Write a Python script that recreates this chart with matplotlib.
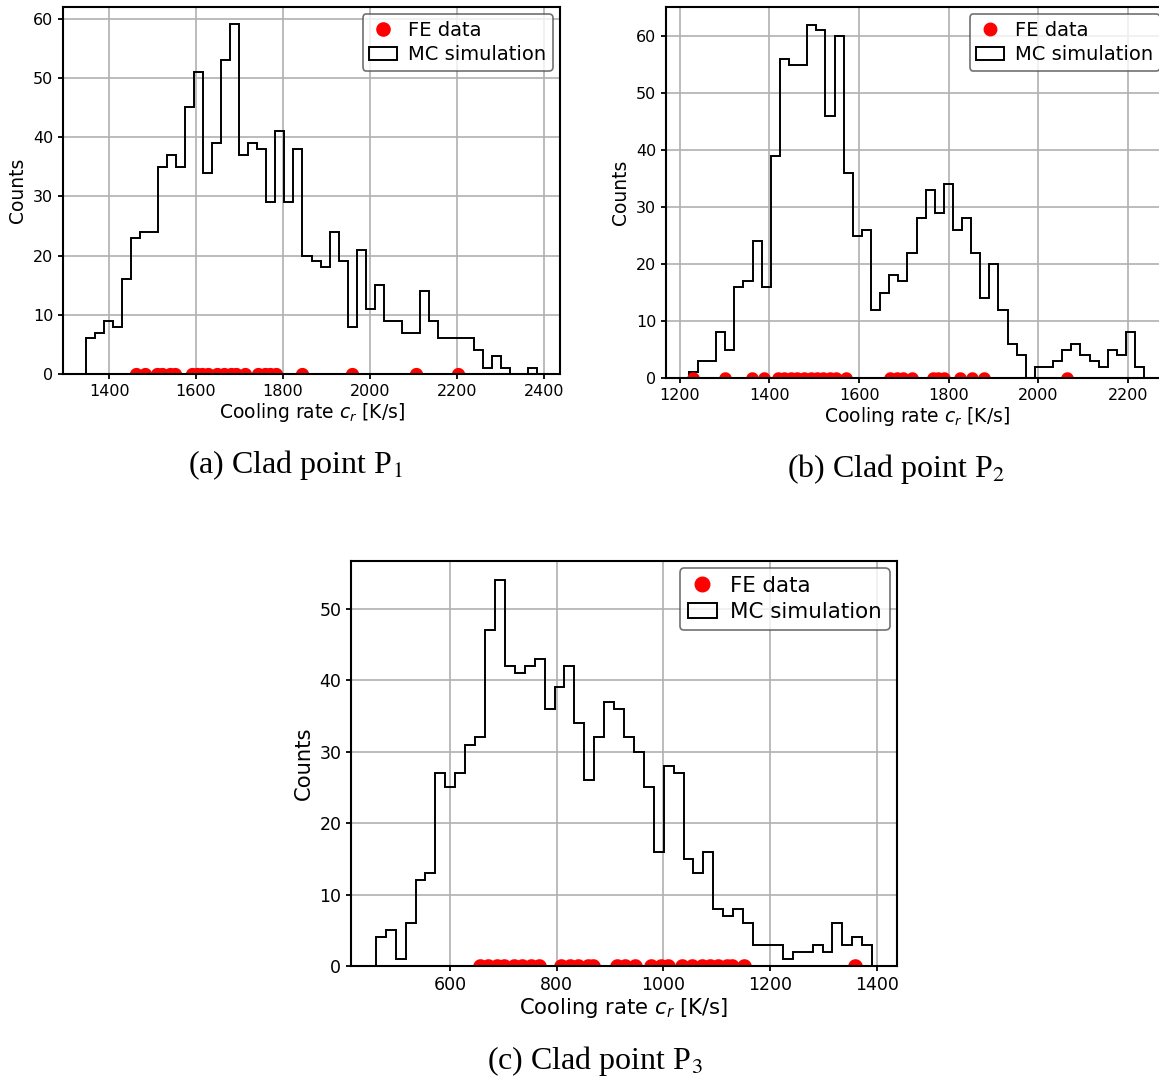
import numpy as np
import matplotlib
matplotlib.use('Agg')
import matplotlib.pyplot as plt
from matplotlib.path import Path
from matplotlib.lines import Line2D

# ---------------- data ----------------
counts_a = [6, 7, 9, 8, 16, 23, 24, 24, 35, 37, 35, 45, 51, 34, 39, 53, 59, 37, 39, 38,
            29, 41, 29, 38, 20, 19, 18, 24, 19, 8, 21, 11, 15, 9, 9, 7, 7, 14, 9, 6,
            6, 6, 6, 4, 1, 3, 1, 0, 0, 1]
range_a = (1346, 2385)
fe_a = [1462, 1483, 1510, 1522, 1540, 1552, 1590, 1602, 1614, 1628, 1648, 1665, 1680,
        1692, 1712, 1742, 1758, 1770, 1785, 1843, 1958, 2106, 2203]

counts_b = [1, 3, 3, 8, 5, 16, 17, 24, 16, 39, 56, 55, 55, 62, 61, 46, 60, 36, 25, 26,
            12, 15, 18, 17, 22, 28, 33, 29, 34, 26, 28, 22, 14, 20, 12, 6, 4, 0, 2, 2,
            3, 5, 6, 4, 3, 2, 5, 4, 8, 2]
range_b = (1220, 2236)
fe_b = [1230, 1300, 1360, 1388, 1418, 1432, 1448, 1462, 1478, 1492, 1506, 1520, 1535,
        1548, 1570, 1668, 1684, 1698, 1718, 1765, 1775, 1790, 1826, 1852, 1878, 2063]

counts_c = [4, 5, 1, 6, 12, 13, 27, 25, 27, 31, 32, 47, 54, 42, 41, 42, 43, 36, 39, 42,
            34, 26, 32, 37, 36, 32, 30, 25, 16, 28, 27, 15, 13, 16, 8, 7, 8, 6, 3, 3,
            3, 1, 2, 2, 3, 2, 6, 3, 4, 3]
range_c = (461, 1391)
fe_c = [656, 672, 688, 701, 720, 735, 751, 767, 808, 824, 840, 859, 868, 913, 928, 947,
        976, 995, 1008, 1034, 1053, 1072, 1087, 1103, 1119, 1128, 1150, 1359]

xticks_a = [1400, 1600, 1800, 2000, 2200, 2400]
xticks_b = [1200, 1400, 1600, 1800, 2000, 2200]
xticks_c = [600, 800, 1000, 1200, 1400]

captions = ['(a) Clad point P$_1$', '(b) Clad point P$_2$', '(c) Clad point P$_3$']
legend_labels = ['FE data', 'MC simulation']
xlabel = 'Cooling rate $c_r$ [K/s]'
ylabel = 'Counts'

# ---------------- figure ----------------
W, H = 1159, 1080
fig = plt.figure(figsize=(W / 100, H / 100), dpi=100)

# upper half-disc marker (points sit on the x axis, lower half hidden by it)
_th = np.linspace(0, np.pi, 40)
_verts = np.column_stack([np.cos(_th), np.sin(_th)])
_verts = np.vstack([_verts, [[1, 0]]])
half_disc = Path(_verts, closed=True)


def px_axes(l, t, r, b):
    return fig.add_axes([l / W, 1 - b / H, (r - l) / W, (b - t) / H])


def panel(ax, counts, rng, fe, xticks, tick_fs, label_fs, leg_fs, ms):
    counts = np.asarray(counts, float)
    edges = np.linspace(rng[0], rng[1], len(counts) + 1)
    centers = 0.5 * (edges[:-1] + edges[1:])
    _, _, patches = ax.hist(centers, bins=edges, weights=counts, histtype='step',
                            color='black', linewidth=1.4, zorder=2)
    ax.plot(fe, np.zeros(len(fe)), linestyle='none', marker=half_disc,
            markersize=ms, markerfacecolor='red', markeredgewidth=0, zorder=2.3)
    ax.set_ylim(bottom=0)
    ax.set_xticks(xticks)
    ax.grid(True, color='#b0b0b0', linewidth=1.2)
    ax.set_axisbelow(True)
    ax.tick_params(direction='out', length=3.5, width=1.3, labelsize=tick_fs)
    for s in ax.spines.values():
        s.set_linewidth(1.5)
    ax.set_xlabel(xlabel, fontsize=label_fs, labelpad=2)
    ax.set_ylabel(ylabel, fontsize=label_fs, labelpad=4)
    dot_handle = Line2D([], [], linestyle='none', marker='o', color='red',
                        markersize=ms)
    leg = ax.legend([dot_handle, patches[0]], legend_labels, loc='upper right',
                    fontsize=leg_fs, framealpha=0.8, handlelength=1.4,
                    handletextpad=0.6, borderpad=0.35, labelspacing=0.3,
                    borderaxespad=0.35)
    leg.get_frame().set_edgecolor('0.3')
    leg.get_frame().set_linewidth(1.2)


ax_a = px_axes(63, 7, 560, 374)
panel(ax_a, counts_a, range_a, fe_a, xticks_a, 11.5, 13.5, 14, 9.5)

ax_b = px_axes(666, 7, 1167, 378)
panel(ax_b, counts_b, range_b, fe_b, xticks_b, 11.5, 13.5, 14, 9)

ax_c = px_axes(351, 561, 897, 966)
panel(ax_c, counts_c, range_c, fe_c, xticks_c, 12.5, 15.2, 15.4, 10.5)

cap_kw = dict(ha='center', va='center', fontsize=23, family='Liberation Serif',
              math_fontfamily='stix')
fig.text(295 / W, 1 - 465 / H, captions[0], **cap_kw)
fig.text(896 / W, 1 - 469 / H, captions[1], **cap_kw)
fig.text(595 / W, 1 - 1061 / H, captions[2], **cap_kw)

fig.savefig('out.png', dpi=100)
